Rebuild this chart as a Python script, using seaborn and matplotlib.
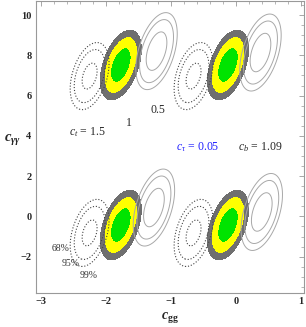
import matplotlib.pyplot as plt
import numpy as np
import seaborn as sns

# best-fit centres of the chi^2 regions (c_gg, c_gamgam), four minima per c_t
ct1_x = [-1.77, -0.12, -1.77, -0.12]
ct1_y = [7.52, 7.52, -0.43, -0.43]
ct15_x = [-2.25, -0.65, -2.25, -0.65]
ct15_y = [6.97, 6.97, -0.82, -0.82]
ct05_x = [-1.22, 0.38, -1.26, 0.40]
ct05_y = [8.21, 8.14, 0.44, 0.22]

# widths (sigma_gg, sigma_gamgam, correlation) and chi^2 at the local minimum
width_ct1 = (0.104, 0.57, 0.45)
width_ct15 = (0.105, 0.585, 0.38)
width_ct05 = (0.105, 0.63, 0.45)
chi2min_ct1 = 0.0
chi2min_ct15 = 1.1
chi2min_ct05 = 0.0

cl_levels = [2.30, 6.18, 9.21]
cl_labels = ["68%", "95%", "99%"]
cl_label_x = [-2.69, -2.54, -2.27]
cl_label_y = [-1.57, -2.36, -2.96]

sns.set_style("white")
plt.rcParams["font.family"] = ["Liberation Serif", "DejaVu Serif"]
plt.rcParams["mathtext.fontset"] = "custom"
plt.rcParams["mathtext.rm"] = "Liberation Serif"
plt.rcParams["mathtext.it"] = "Liberation Serif:italic"
plt.rcParams["mathtext.bf"] = "Liberation Serif:bold"
plt.rcParams["mathtext.bfit"] = "Liberation Serif:italic:bold"

gx, gy = np.meshgrid(np.linspace(-3.2, 1.2, 500), np.linspace(-4.5, 11.5, 700))


def chi2(cx, cy, width, chi2min):
    sx, sy, rho = width
    dx = (gx - cx) / sx
    dy = (gy - cy) / sy
    return chi2min + (dx**2 - 2 * rho * dx * dy + dy**2) / (1 - rho**2)


fig = plt.figure(figsize=(3.06, 3.27), dpi=100)
ax = fig.add_axes([35.7 / 306, 1 - 292.7 / 327, (304 - 35.7) / 306, (292.7 - 1) / 327])

for cx, cy in zip(ct1_x, ct1_y):
    ax.contourf(gx, gy, chi2(cx, cy, width_ct1, chi2min_ct1), levels=[0] + cl_levels,
                colors=["#00e400", "#ffff00", "#6f6f6f"])

for cx, cy in zip(ct15_x, ct15_y):
    ax.contour(gx, gy, chi2(cx, cy, width_ct15, chi2min_ct15), levels=cl_levels,
               colors="#444444", linewidths=0.8, linestyles=":")

for cx, cy in zip(ct05_x, ct05_y):
    ax.contour(gx, gy, chi2(cx, cy, width_ct05, chi2min_ct05), levels=cl_levels,
               colors="#a8a8a8", linewidths=0.7, linestyles="-")

ax.set_xlim(-3.08, 1.05)
ax.set_ylim(-3.79, 10.70)
ax.set_xticks([-3, -2, -1, 0, 1])
ax.set_yticks([-2, 0, 2, 4, 6, 8, 10])
ax.set_xticks(np.arange(-3.0, 1.05, 0.2), minor=True)
ax.set_yticks(np.arange(-3.5, 10.7, 0.5), minor=True)
ax.tick_params(which="both", direction="in", top=True, right=True,
               color="#999999", labelsize=7.5, pad=3)
ax.tick_params(which="major", length=3.5, width=0.6)
ax.tick_params(which="minor", length=2, width=0.5)
for lab in ax.get_xticklabels() + ax.get_yticklabels():
    lab.set_fontweight("bold")
for sp in ax.spines.values():
    sp.set_color("#999999")
    sp.set_linewidth(0.8)

ax.set_xlabel(r"$\mathbfit{c}_{\mathbf{gg}}$", fontsize=10)
ax.xaxis.set_label_coords(0.50, -0.058)
ax.set_ylabel(r"$\mathbfit{c}_{\mathbfit{\gamma\gamma}}$", fontsize=10.5, rotation=0)
ax.yaxis.set_label_coords(-0.085, 0.50)

ax.text(-2.29, 4.19, r"$c_t\,=\,1.5$", fontsize=8.5, ha="center", va="center")
ax.text(-1.64, 4.63, "1", fontsize=8.5, ha="center", va="center")
ax.text(-1.20, 5.28, "0.5", fontsize=8.5, ha="center", va="center")
ax.text(-0.59, 3.45, r"$c_\tau\,=\,0.05$", fontsize=8.5, ha="center", va="center", color="#2020ff")
ax.text(0.38, 3.45, r"$c_b\,=\,1.09$", fontsize=8.5, ha="center", va="center")
for lab, lx, ly in zip(cl_labels, cl_label_x, cl_label_y):
    ax.text(lx, ly, lab, fontsize=7, ha="center", va="center", color="#333333")

fig.savefig("out.png", dpi=100)
